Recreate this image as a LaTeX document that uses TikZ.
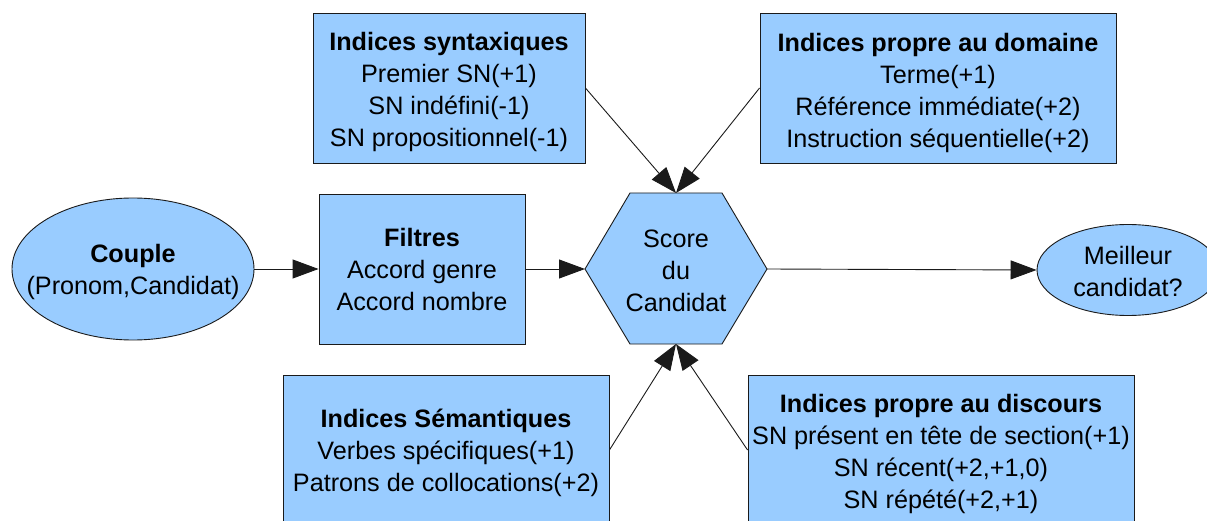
\documentclass[tikz,border=0pt]{standalone}
\usepackage{fontspec}
\setmainfont{Liberation Sans}
\usetikzlibrary{shapes.geometric,arrows.meta}
\definecolor{boxfill}{HTML}{99CCFF}
\definecolor{boxline}{HTML}{1A1A1A}
\tikzset{
  txt/.style={align=center, inner sep=0pt, font=\fontsize{25.2}{32}\selectfont},
  base/.style={txt, draw=boxline, line width=0.9pt, fill=boxfill},
  ibox/.style={base, rectangle},
  oval/.style={base, ellipse},
  conn/.style={draw=boxline, line width=0.9pt, -{Triangle[length=26pt,width=19pt]}},
}
\begin{document}
\begin{tikzpicture}[x=1pt,y=-1pt]
\useasboundingbox (0,0) rectangle (1207,521);
\clip (0,0) rectangle (1207,521);
% hexagon
\coordinate (hexW) at (585,269);
\coordinate (hexE) at (767,269);
\coordinate (hexN) at (676,193);
\coordinate (hexS) at (676,344);
\filldraw[draw=boxline, line width=0.9pt, fill=boxfill] (585,269) -- (630,193) -- (722,193) -- (767,269) -- (722,344) -- (630,344) -- cycle;
\node[txt] (score) at (676,271) {Score\\du\\Candidat};

\node[ibox, minimum width=272pt, minimum height=150pt] (syn) at (449,88) {};
\node[txt] (syntxt) at (449,92)
  {\textbf{Indices syntaxiques}\\Premier SN(+1)\\SN indéfini(-1)\\SN propositionnel(-1)};
\node[ibox, minimum width=356pt, minimum height=150pt] (dom) at (938,88) {};
\node[txt] (domtxt) at (938,92.5)
  {\textbf{Indices propre au domaine}\\Terme(+1)\\Référence immédiate(+2)\\Instruction séquentielle(+2)};
\node[ibox, minimum width=206pt, minimum height=150pt] (filt) at (422,269) {};
\node[txt] (filttxt) at (422,269.5)
  {\textbf{Filtres}\\Accord genre\\Accord nombre};
\node[ibox, minimum width=326pt, minimum height=150pt] (sem) at (446,450) {};
\node[txt] (semtxt) at (446,453)
  {\textbf{Indices Sémantiques}\\Verbes spécifiques(+1)\\Patrons de collocations(+2)};
\node[ibox, minimum width=386pt, minimum height=150pt] (disc) at (941,450) {};
\node[txt] (disctxt) at (941,453.5)
  {\textbf{Indices propre au discours}\\SN présent en tête de section(+1)\\SN récent(+2,+1,0)\\SN répété(+2,+1)};
\node[oval, minimum width=242pt, minimum height=142pt] (couple) at (133,269) {};
\node[txt] (coupletxt) at (133,272) {\textbf{Couple}\\(Pronom,Candidat)};
\node[oval, minimum width=182pt, minimum height=91pt] (best) at (1128,270) {};
\node[txt] (besttxt) at (1128,271) {Meilleur\\candidat?};

\draw[conn] (couple.east) -- (filt.west);
\draw[conn] (filt.east) -- (hexW);
\draw[conn] (hexE) -- (best.west);
\draw[conn] (syn.east) -- (hexN);
\draw[conn] (dom.west) -- (hexN);
\draw[conn] (sem.east) -- (hexS);
\draw[conn] (disc.west) -- (hexS);
\end{tikzpicture}
\end{document}
